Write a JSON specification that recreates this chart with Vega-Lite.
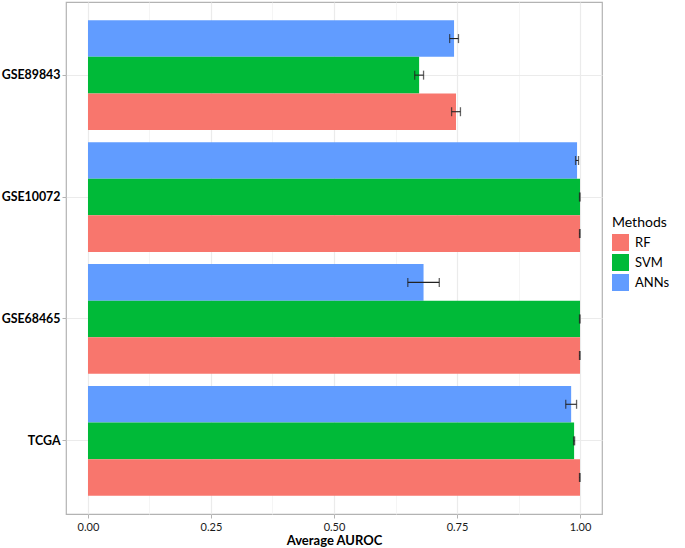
{
  "$schema": "https://vega.github.io/schema/vega-lite/v6.json",
  "autosize": {"type": "none"},
  "padding": {"left": 66, "top": 2, "right": 83, "bottom": 34},
  "width": 536,
  "height": 512,
  "background": "white",
  "config": {
    "font": "Lato",
    "view": {"stroke": "#B3B3B3", "strokeWidth": 1.2},
    "axis": {"domain": false, "tickColor": "#B3B3B3", "tickSize": 4, "labelColor": "#1a1a1a", "titleColor": "#000000"}
  },
  "data": {
    "values": [
      {"dataset": "GSE89843", "method": "ANNs", "auroc": 0.744, "lower": 0.735, "upper": 0.753},
      {"dataset": "GSE89843", "method": "SVM", "auroc": 0.673, "lower": 0.664, "upper": 0.682},
      {"dataset": "GSE89843", "method": "RF", "auroc": 0.748, "lower": 0.739, "upper": 0.757},
      {"dataset": "GSE10072", "method": "ANNs", "auroc": 0.994, "lower": 0.991, "upper": 0.997},
      {"dataset": "GSE10072", "method": "SVM", "auroc": 1.0, "lower": 0.999, "upper": 1.0},
      {"dataset": "GSE10072", "method": "RF", "auroc": 1.0, "lower": 0.999, "upper": 1.0},
      {"dataset": "GSE68465", "method": "ANNs", "auroc": 0.682, "lower": 0.65, "upper": 0.714},
      {"dataset": "GSE68465", "method": "SVM", "auroc": 1.0, "lower": 0.999, "upper": 1.0},
      {"dataset": "GSE68465", "method": "RF", "auroc": 1.0, "lower": 0.999, "upper": 1.0},
      {"dataset": "TCGA", "method": "ANNs", "auroc": 0.982, "lower": 0.971, "upper": 0.993},
      {"dataset": "TCGA", "method": "SVM", "auroc": 0.988, "lower": 0.987, "upper": 0.989},
      {"dataset": "TCGA", "method": "RF", "auroc": 1.0, "lower": 0.999, "upper": 1.0}
    ]
  },
  "encoding": {
    "y": {
      "field": "dataset",
      "type": "nominal",
      "sort": ["GSE89843", "GSE10072", "GSE68465", "TCGA"],
      "scale": {"paddingInner": 0.1, "paddingOuter": 0.15},
      "axis": {
        "title": null,
        "labelFont": "Lato",
        "labelFontWeight": "bold",
        "labelFontSize": 12.4,
        "labelColor": "#000000",
        "labelPadding": 2,
        "grid": true,
        "gridColor": "#EBEBEB",
        "gridWidth": 1,
        "bandPosition": 0.5,
        "tickBand": "center"
      }
    },
    "yOffset": {
      "field": "method",
      "type": "nominal",
      "scale": {"domain": ["ANNs", "SVM", "RF"], "paddingInner": 0, "paddingOuter": 0}
    }
  },
  "layer": [
    {
      "mark": {"type": "bar"},
      "encoding": {
        "x": {
          "field": "auroc",
          "type": "quantitative",
          "scale": {"domain": [-0.0447, 1.0447], "nice": false, "zero": false},
          "axis": {
            "title": "Average AUROC",
            "titleFontWeight": "bold",
            "titleFontSize": 13,
            "titlePadding": 2,
            "labelFontSize": 11,
            "labelPadding": 3,
            "values": [0, 0.125, 0.25, 0.375, 0.5, 0.625, 0.75, 0.875, 1],
            "labelExpr": "(datum.value * 4) % 1 === 0 ? format(datum.value, '.2f') : ''",
            "tickOpacity": {"condition": {"test": "(datum.value * 4) % 1 === 0", "value": 1}, "value": 0},
            "grid": true,
            "gridColor": {"condition": {"test": "(datum.value * 4) % 1 === 0", "value": "#EBEBEB"}, "value": "#F3F3F3"},
            "gridWidth": {"condition": {"test": "(datum.value * 4) % 1 === 0", "value": 1.2}, "value": 0.8}
          }
        },
        "color": {
          "field": "method",
          "type": "nominal",
          "scale": {"domain": ["RF", "SVM", "ANNs"], "range": ["#F8766D", "#00BA38", "#619CFF"]},
          "legend": {
            "title": "Methods",
            "orient": "none",
            "legendX": 546,
            "legendY": 214,
            "titleFontSize": 14,
            "titleFontWeight": "normal",
            "titleColor": "#000000",
            "titlePadding": 4,
            "labelFontSize": 13,
            "labelColor": "#000000",
            "labelOffset": 6,
            "symbolType": "square",
            "symbolSize": 289,
            "symbolStrokeWidth": 0,
            "symbolOpacity": 1,
            "rowPadding": 3
          }
        }
      }
    },
    {
      "mark": {"type": "rule", "color": "#222222", "strokeWidth": 1.1},
      "encoding": {
        "x": {"field": "lower", "type": "quantitative"},
        "x2": {"field": "upper"}
      }
    },
    {
      "mark": {"type": "tick", "color": "#222222", "thickness": 1.3, "size": 9},
      "encoding": {
        "x": {"field": "lower", "type": "quantitative"}
      }
    },
    {
      "mark": {"type": "tick", "color": "#222222", "thickness": 1.3, "size": 9},
      "encoding": {
        "x": {"field": "upper", "type": "quantitative"}
      }
    }
  ]
}
